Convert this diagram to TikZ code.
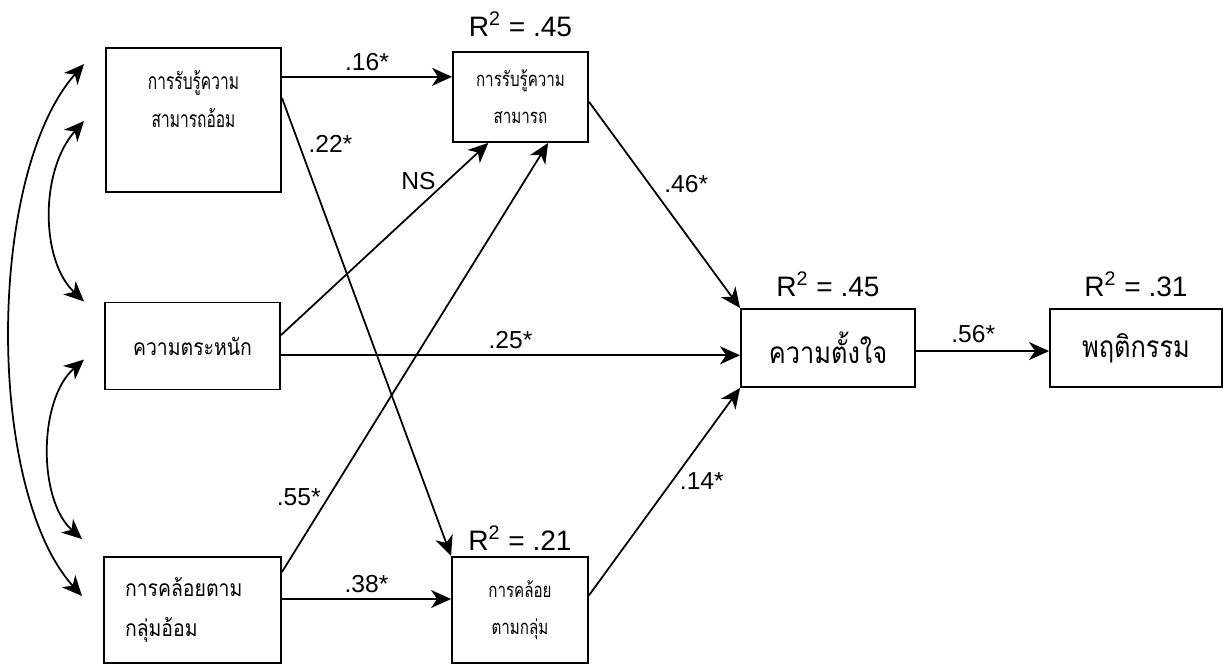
\documentclass[tikz,border=0pt]{standalone}
\usepackage{fontspec}
\setmainfont{Liberation Sans}
\newfontfamily\thaifont[Script=Thai]{Loma}
\newfontfamily\thainarrow[Script=Thai, FakeStretch=0.68]{Loma}
\newfontfamily\thaicond[Script=Thai, FakeStretch=0.75]{Loma}
\newfontfamily\thaiwide[Script=Thai, FakeStretch=0.85]{Loma}
\usepackage{tikz}
\usetikzlibrary{arrows.meta,positioning,calc}
\tikzset{
  patharrow/.style={-{Stealth[length=4mm,width=3.6mm,inset=1.2mm]}, line width=1pt},
  covarrow/.style={{Stealth[length=4mm,width=3.6mm,inset=1.2mm]}-{Stealth[length=4mm,width=3.6mm,inset=1.2mm]}, line width=1pt},
  coef/.style={font=\fontsize{14}{16}\selectfont, inner sep=1pt},
  rsq/.style={font=\fontsize{16}{18}\selectfont, inner sep=1pt}
}
\newcommand\thaiexo{\thainarrow\fontsize{13}{21.5}\selectfont}
\newcommand\thaiexob{\thaiwide\fontsize{13}{22.5}\selectfont}
\newcommand\thaimed{\thaicond\fontsize{11.5}{21}\selectfont}
\newcommand\thaiout{\thaiwide\fontsize{17}{20}\selectfont}

\begin{document}
\begin{tikzpicture}[
  x=0.02cm, y=-0.02cm,
  pbox/.style 2 args={draw, line width=1.1pt, inner sep=0pt, align=center,
    minimum width=#1*0.02cm, minimum height=#2*0.02cm}
]
\useasboundingbox (0,0) rectangle (1231,665);

% exogenous variables
\node[pbox={175}{144}] at (193.5,120) (perindir) {};
\node[align=center, inner sep=0pt, font=\thaiexo] at (193.5,99) (perindirtxt) {การรับรู้ความ\\สามารถอ้อม};
\node[pbox={175}{87}, font=\thaiexob] at (192.5,346) (aware) {ความตระหนัก};
\node[pbox={177}{106}, font=\thaiexob, align=left, text width=2.7cm, inner xsep=0.42cm] at (192.5,610) (confindir) {การคล้อยตาม\\กลุ่มอ้อม};

% mediators
\node[pbox={135}{90}, font=\thaimed, label={[rsq, label distance=7pt]above:R\textsuperscript{2} = .45}] at (520.5,97) (perceive) {การรับรู้ความ\\สามารถ};
\node[pbox={136}{106}, font=\thaimed, label={[rsq, label distance=2pt]above:R\textsuperscript{2} = .21}] at (520,610) (conform) {การคล้อย\\ตามกลุ่ม};

% outcomes
\node[pbox={174}{78}, font=\thaiout, label={[rsq, label distance=5pt]above:R\textsuperscript{2} = .45}] at (828,348) (intent) {ความตั้งใจ};
\node[pbox={172}{78}, font=\thaiout, label={[rsq, label distance=5pt]above:R\textsuperscript{2} = .31}] at (1136,348) (behav) {พฤติกรรม};

% paths
\draw[patharrow] (perindir.26) -- node[coef, above=2pt]{.16*} (perindir.26 -| perceive.west);
\draw[patharrow] (perindir.14.6) -- node[coef, pos=0.1, right=4pt]{.22*} (conform.north west);
\draw[patharrow] (aware.7.4) -- node[coef, pos=0.75, above left, inner sep=0pt]{NS} (perceive.235.9);
\draw[patharrow] (aware.-6.5) -- node[coef, above=2pt]{.25*} (aware.-6.5 -| intent.west);
\draw[patharrow] (confindir.23.2) -- node[coef, pos=0.175, left=3pt]{.55*} (perceive.301.4);
\draw[patharrow] (confindir.7.7) -- node[coef, above=2pt]{.38*} (confindir.7.7 -| conform.west);
\draw[patharrow] (perceive.-4.2) -- node[coef, pos=0.4, right=7pt]{.46*} (intent.north west);
\draw[patharrow] (conform.12.4) -- node[coef, pos=0.55, right=3pt]{.14*} (intent.south west);
\draw[patharrow] (intent.-2) -- node[coef, pos=0.43, above=3pt]{.56*} (intent.-2 -| behav.west);

% correlations
\coordinate (ca1) at ($(perindir.north west)+(-21,17)$);
\coordinate (ca2) at ($(perindir.north west)+(-21,74)$);
\coordinate (cb1) at ($(aware.north west)+(-20,0)$);
\coordinate (cb2) at ($(aware.north west)+(-20,58)$);
\coordinate (cc1) at ($(confindir.north west)+(-21,-17)$);
\coordinate (cc2) at ($(confindir.north west)+(-21,40)$);
\draw[covarrow] (ca1) .. controls (-14,175) and (-14,490) .. (cc2);
\draw[covarrow] (ca2) .. controls (40,170) and (40,260) .. (cb1);
\draw[covarrow] (cb2) .. controls (38,400) and (38,500) .. (cc1);
\end{tikzpicture}
\end{document}
